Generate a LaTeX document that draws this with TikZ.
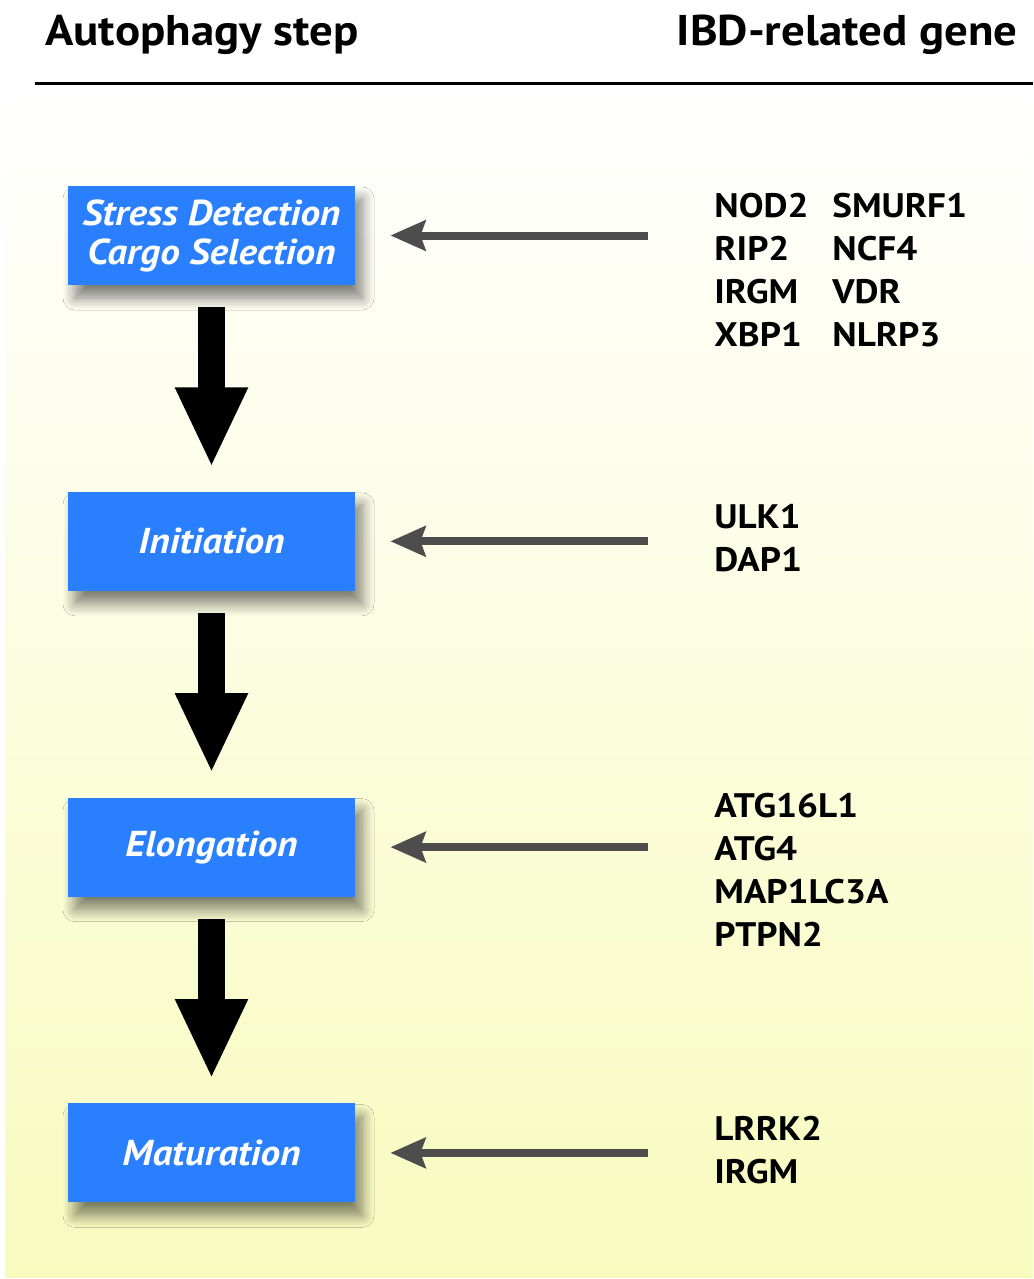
\documentclass[tikz,border=0pt]{standalone}
\usepackage{fontspec}
\setmainfont[FakeStretch=1.09]{PT Sans}
\usetikzlibrary{arrows.meta,calc,positioning,shadows.blur}

\definecolor{stepblue}{RGB}{42,127,255}
\definecolor{feedgray}{RGB}{77,77,77}
\definecolor{bgyellow}{RGB}{248,251,190}

\tikzset{
  stepbox/.style={rectangle, fill=stepblue, text=white, minimum width=143.5pt,
    minimum height=49.5pt, align=center, inner sep=0pt,
    font=\fontsize{18}{19.5}\selectfont\bfseries\itshape,
    blur shadow={shadow xshift=3.5pt, shadow yshift=-6.5pt, shadow blur radius=6pt,
      shadow blur steps=10, shadow opacity=50}},
  flow/.style={line width=13.5pt, black, shorten <=11pt, shorten >=12pt,
    -{Triangle[length=40pt, width=33.5pt]}},
  feed/.style={line width=4pt, feedgray, shorten >=17.5pt,
    -{Stealth[length=17.5pt, width=15pt, inset=2.5pt]}},
  % gene lists sit on the baseline of their last line
  genes/.style={anchor=base west, align=left, inner sep=0pt,
    font=\fontsize{17}{21.5}\selectfont\bfseries},
  head/.style={inner sep=0pt, font=\fontsize{21.5}{24}\selectfont\bfseries}
}

\begin{document}
\begin{tikzpicture}[x=0.5pt, y=-0.5pt]
  \useasboundingbox (0,0) rectangle (1033,1279);
  \shade[top color=white, bottom color=bgyellow] (5,90) rectangle (1033,1277);
  \fill[white] (5,0) rectangle (1033,90);

  % column titles
  \node[head, anchor=base west] (steptitle) at (45,46) {Autophagy step};
  \node[head, anchor=base east] (genetitle) at (1018,46) {IBD-related gene};
  \draw[line width=1.5pt] (35,84) -- (1033,84);

  % the four steps
  \node[stepbox] (stress) at (211.5,235.5) {Stress Detection\\Cargo Selection};
  \node[stepbox, below = 103pt of stress] (init) {Initiation};
  \node[stepbox, below = 103pt of init] (elong) {Elongation};
  \node[stepbox, below = 103pt of elong] (matur) {Maturation};

  \draw[flow] (stress) -- (init);
  \draw[flow] (init) -- (elong);
  \draw[flow] (elong) -- (matur);

  % gene lists
  \node[genes] (genesA) at (714,346) {NOD2\\RIP2\\IRGM\\XBP1};
  \node[genes] (genesB) at (832,346) {SMURF1\\NCF4\\VDR\\NLRP3};
  \node[genes] (genesC) at (714,571) {ULK1\\DAP1};
  \node[genes] (genesD) at (714,946) {ATG16L1\\ATG4\\MAP1LC3A\\PTPN2};
  \node[genes] (genesE) at (714,1183) {LRRK2\\IRGM};

  \coordinate (srcA) at ($(stress.east)+(293,0)$);
  \coordinate (srcC) at ($(init.east)+(293,0)$);
  \coordinate (srcD) at ($(elong.east)+(293,0)$);
  \coordinate (srcE) at ($(matur.east)+(293,0)$);

  \draw[feed] (srcA) -- (stress);
  \draw[feed] (srcC) -- (init);
  \draw[feed] (srcD) -- (elong);
  \draw[feed] (srcE) -- (matur);

\end{tikzpicture}
\end{document}
